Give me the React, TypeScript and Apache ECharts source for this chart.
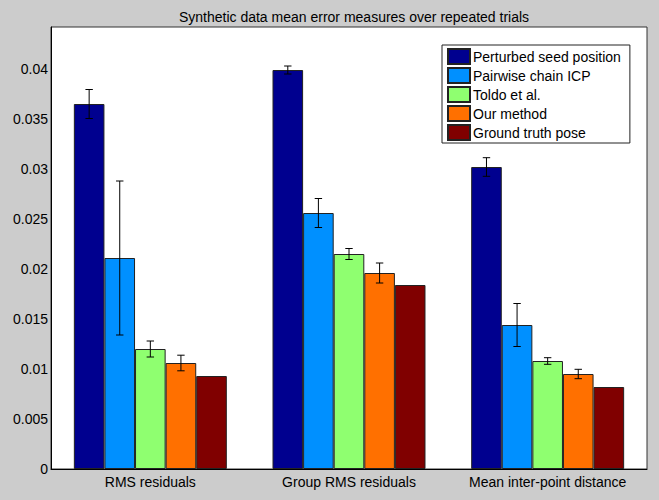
import React, { useEffect, useRef } from "react";
import * as echarts from "echarts";

const categories = ["RMS residuals", "Group RMS residuals", "Mean inter-point distance"];
const seriesNames = [
  "Perturbed seed position",
  "Pairwise chain ICP",
  "Toldo et al.",
  "Our method",
  "Ground truth pose",
];
const perturbed = [0.0365, 0.0399, 0.0302];
const perturbedErr = [0.00145, 0.0004, 0.00093];
const pairwise = [0.0211, 0.0256, 0.0144];
const pairwiseErr = [0.0077, 0.00145, 0.00215];
const toldo = [0.012, 0.0215, 0.0108];
const toldoErr = [0.0008, 0.00055, 0.00033];
const ours = [0.0106, 0.0196, 0.0095];
const oursErr = [0.00078, 0.001, 0.00047];
const groundTruth = [0.0093, 0.0184, 0.0082];

const colors = ["#00008F", "#0090FF", "#8FFF70", "#FF7000", "#800000"];
const FONT = "'Liberation Sans', Arial, sans-serif";

export default function App() {
  const ref = useRef<HTMLDivElement>(null);
  useEffect(() => {
    document.body.style.margin = "0";
    const chart = echarts.init(ref.current!, null, { renderer: "svg" });
    const values = [perturbed, pairwise, toldo, ours, groundTruth];
    const errs = [perturbedErr, pairwiseErr, toldoErr, oursErr];
    const errData: number[][] = [];
    errs.forEach((arr, si) => {
      arr.forEach((e, ci) => {
        errData.push([ci, si, values[si][ci], e]);
      });
    });
    const GAP = 0.23;
    chart.setOption({
      animation: false,
      backgroundColor: "#CCCCCC",
      title: {
        text: "Synthetic data mean error measures over repeated trials",
        left: 349,
        top: 5,
        textAlign: "center",
        textStyle: { fontSize: 14, fontWeight: "normal", color: "#000", fontFamily: FONT },
      },
      legend: {
        orient: "vertical",
        left: 442,
        top: 45,
        data: seriesNames,
        itemWidth: 22,
        itemHeight: 15,
        itemGap: 2,
        padding: [3, 9, 2, 5],
        backgroundColor: "#fff",
        borderColor: "#222",
        borderWidth: 1,
        borderRadius: 0,
        icon: "rect",
        textStyle: { fontSize: 14, color: "#000", fontFamily: FONT, padding: [0, 0, 0, -2] },
      },
      grid: {
        left: 51,
        right: 12,
        top: 27,
        bottom: 31,
        show: true,
        backgroundColor: "#fff",
        borderColor: "#333",
        borderWidth: 1,
      },
      xAxis: {
        type: "category",
        data: categories,
        axisTick: { show: false },
        axisLine: { lineStyle: { color: "#000" } },
        axisLabel: { fontSize: 14, color: "#000", fontFamily: FONT, margin: 6, interval: 0 },
      },
      yAxis: {
        type: "value",
        min: 0,
        max: 0.0442,
        interval: 0.005,
        splitLine: { show: false },
        axisLine: { show: true, lineStyle: { color: "#000" } },
        axisTick: { show: false },
        axisLabel: {
          fontSize: 14,
          color: "#000",
          fontFamily: FONT,
          margin: 3,
          showMaxLabel: false,
          formatter: (v: number) => String(Number(v.toFixed(4))),
        },
      },
      series: [
        ...seriesNames.map((name, i) => ({
          name,
          type: "bar",
          data: values[i],
          barGap: "0%",
          barCategoryGap: GAP * 100 + "%",
          itemStyle: { color: colors[i], borderColor: "#222", borderWidth: 1 },
        })),
        {
          type: "custom",
          z: 10,
          data: errData,
          encode: { x: 0, y: 2 },
          renderItem: (params: any, api: any) => {
            const cat = api.value(0);
            const si = api.value(1);
            const v = api.value(2);
            const e = api.value(3);
            const band = api.size([1, 0])[0];
            const barW = (band * (1 - GAP)) / 5;
            const cx = api.coord([cat, 0])[0] + (si - 2) * barW;
            const top = api.coord([cat, v + e])[1];
            const bot = api.coord([cat, v - e])[1];
            const style = { stroke: "#000", lineWidth: 1 };
            const cap = 3.7;
            return {
              type: "group",
              children: [
                { type: "line", shape: { x1: cx, y1: top, x2: cx, y2: bot }, style },
                { type: "line", shape: { x1: cx - cap, y1: top, x2: cx + cap, y2: top }, style },
                { type: "line", shape: { x1: cx - cap, y1: bot, x2: cx + cap, y2: bot }, style },
              ],
            };
          },
        },
      ],
    });
    return () => chart.dispose();
  }, []);
  return <div ref={ref} style={{ width: 659, height: 500 }} />;
}
